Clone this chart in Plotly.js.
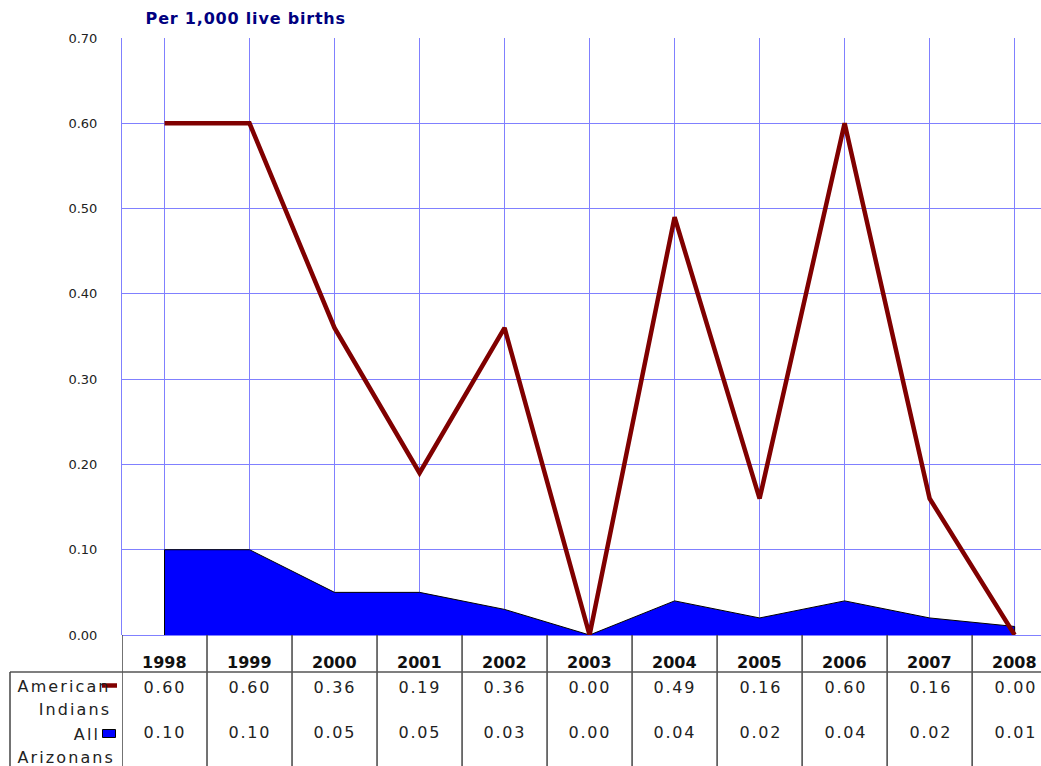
<!DOCTYPE html>
<html>
<head>
<meta charset="utf-8">
<script src="https://cdn.plot.ly/plotly-3.0.1.min.js"></script>
<style>html,body{margin:0;padding:0;background:#fff;}#chart{width:1041px;height:766px;}</style>
</head>
<body>
<div id="chart"></div>
<script>
const years = ["1998","1999","2000","2001","2002","2003","2004","2005","2006","2007","2008"];
const americanIndians = [0.60,0.60,0.36,0.19,0.36,0.00,0.49,0.16,0.60,0.16,0.00];
const allArizonans = [0.10,0.10,0.05,0.05,0.03,0.00,0.04,0.02,0.04,0.02,0.01];
const seriesNames = ["American Indians","All Arizonans"];
const yTicks = [0,0.1,0.2,0.3,0.4,0.5,0.6,0.7];

const W = 1041, H = 766, L = 122, T = 38, B = 131;
const plotW = W - L, plotH = H - T - B;
const py = p => (H - B - p) / plotH;      // pixel y -> paper y
const px = p => (p - L) / plotW;          // pixel x -> paper x

const fontFam = '"DejaVu Sans", Verdana, sans-serif';
const last = years.length - 1;
const traces = [
  {x: years, y: allArizonans, name: seriesNames[1], type: 'scatter', mode: 'lines',
   fill: 'tozeroy', fillcolor: '#0000ff', line: {color: '#000000', width: 1}, hoverinfo: 'x+y'},
  {x: [years[0], years[0]], y: [0, allArizonans[0]], type: 'scatter', mode: 'lines',
   line: {color: '#000', width: 1}, hoverinfo: 'skip', showlegend: false},
  {x: [years[last], years[last]], y: [0, allArizonans[last]], type: 'scatter', mode: 'lines',
   line: {color: '#000', width: 1}, hoverinfo: 'skip', showlegend: false},
  {x: years, y: americanIndians, name: seriesNames[0], type: 'scatter', mode: 'lines',
   line: {color: '#800000', width: 4.5}, cliponaxis: false, hoverinfo: 'x+y'}
];

const annotations = [];
const spacing = [];   // letter-spacing per annotation index
const shapes = [];
function addAnn(a, ls) { annotations.push(a); spacing.push(ls); }

const valSp = 1.8;
years.forEach((yr, i) => {
  addAnn({x: i, xref: 'x', y: py(662), yref: 'paper', text: yr, showarrow: false,
    xanchor: 'center', yanchor: 'middle', font: {family: fontFam, size: 16, color: '#111', weight: 'bold'}}, 0);
  addAnn({x: i, xref: 'x', xshift: valSp / 2, y: py(687), yref: 'paper', text: americanIndians[i].toFixed(2), showarrow: false,
    xanchor: 'center', yanchor: 'middle', font: {family: fontFam, size: 16, color: '#222'}}, valSp);
  addAnn({x: i, xref: 'x', xshift: valSp / 2, y: py(733), yref: 'paper', text: allArizonans[i].toFixed(2), showarrow: false,
    xanchor: 'center', yanchor: 'middle', font: {family: fontFam, size: 16, color: '#222'}}, valSp);
});
const labSp = 2.1;
const lab = (t, xc, y) => addAnn({x: px(xc + labSp / 2), xref: 'paper', y: py(y), yref: 'paper', text: t,
  showarrow: false, xanchor: 'center', yanchor: 'middle', font: {family: fontFam, size: 16, color: '#222'}}, labSp);
lab("American", 63, 686);
lab("Indians", 74, 709);
lab("All", 85.5, 734);
lab("Arizonans", 65, 757);
const tSp = 0.8;
addAnn({x: px(245.5 + tSp / 2), xref: 'paper', y: py(18), yref: 'paper', text: "Per 1,000 live births", showarrow: false,
  xanchor: 'center', yanchor: 'middle', font: {family: fontFam, size: 16, color: '#000080', weight: 'bold'}}, tSp);

// letter spacing via CSS
let css = '';
spacing.forEach((ls, i) => { if (ls) css += `g.annotation[data-index="${i}"] text{letter-spacing:${ls}px;}\n`; });
const st = document.createElement('style'); st.textContent = css; document.head.appendChild(st);

for (let k = 0; k <= 11; k++) {
  shapes.push({type: 'line', xref: 'x', yref: 'paper', x0: k - 0.5, x1: k - 0.5, y0: 0, y1: py(H),
    line: {color: '#444', width: 1.5}});
}
shapes.push({type: 'line', xref: 'paper', yref: 'paper', x0: px(10), x1: 1, y0: py(672), y1: py(672),
  line: {color: '#555', width: 1.5}});
shapes.push({type: 'line', xref: 'paper', yref: 'paper', x0: px(10), x1: px(10), y0: py(672), y1: py(H),
  line: {color: '#444', width: 1.5}});
shapes.push({type: 'line', xref: 'paper', yref: 'paper', x0: px(102), x1: px(117), y0: py(685.5), y1: py(685.5),
  line: {color: '#800000', width: 4.5}});
shapes.push({type: 'rect', xref: 'paper', yref: 'paper', x0: px(102.5), x1: px(115.5), y0: py(737.5), y1: py(729.5),
  fillcolor: '#0000ff', line: {color: '#000', width: 1}});

const layout = {
  width: W, height: H,
  margin: {l: L, r: 0, t: T, b: B, pad: 0},
  paper_bgcolor: '#fff', plot_bgcolor: '#fff',
  showlegend: false,
  xaxis: {type: 'category', range: [-0.5, 10.31], showgrid: true, gridcolor: '#8080ff', gridwidth: 1,
    showticklabels: false, ticks: '', zeroline: false, showline: false, fixedrange: true},
  yaxis: {range: [0, 0.70], tickvals: yTicks, tickformat: '.2f', showgrid: true, gridcolor: '#8080ff', gridwidth: 1,
    zeroline: true, zerolinecolor: '#8080ff', zerolinewidth: 1, showline: true, linecolor: '#8080ff', linewidth: 1,
    ticks: 'outside', ticklen: 21, tickcolor: 'rgba(0,0,0,0)',
    tickfont: {family: fontFam, size: 13, color: '#222'}, fixedrange: true},
  annotations: annotations,
  shapes: shapes
};
Plotly.newPlot('chart', traces, layout, {displayModeBar: false, staticPlot: true});
</script>
</body>
</html>
